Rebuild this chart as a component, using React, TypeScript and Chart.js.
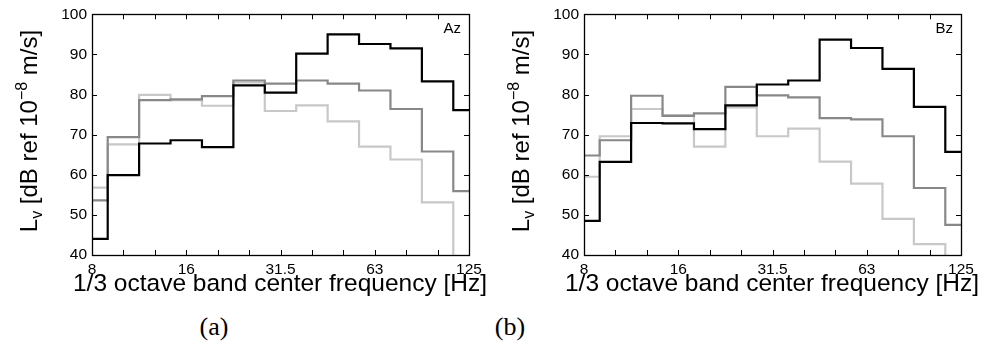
import React, { useEffect, useRef } from 'react';
import { Chart, registerables } from 'chart.js';
Chart.register(...registerables);

const bands = ['8', '10', '12.5', '16', '20', '25', '31.5', '40', '50', '63', '80', '100', '125'];
const xTickLabels = ['8', '16', '31.5', '63', '125'];
const yMin = 40;
const yMax = 100;
const yStep = 10;

const azBlack = [44.0, 59.9, 67.8, 68.6, 66.9, 82.3, 80.5, 90.2, 95.0, 92.6, 91.5, 83.3, 76.1];
const azDark = [53.6, 69.4, 78.6, 78.8, 79.6, 83.5, 82.7, 83.5, 82.7, 81.0, 76.4, 65.8, 55.9];
const azLight = [56.8, 67.6, 79.9, 78.6, 77.2, 83.0, 75.9, 77.3, 73.3, 67.0, 63.8, 53.1, 30];

const bzBlack = [48.5, 63.2, 72.9, 72.8, 71.4, 77.3, 82.5, 83.5, 93.7, 91.6, 86.4, 76.9, 65.7];
const bzDark = [64.8, 68.6, 79.7, 74.7, 75.3, 81.9, 79.8, 79.3, 74.1, 73.8, 69.6, 56.7, 47.5];
const bzLight = [59.5, 69.6, 76.4, 74.9, 67.0, 76.8, 69.6, 71.5, 63.3, 57.8, 49.0, 42.7, 30];

const SANS = '"Liberation Sans", Arial, Helvetica, sans-serif';
const SERIF = '"Liberation Serif", "Times New Roman", serif';

const boxPlugin = {
  id: 'matlabBox',
  afterDatasetsDraw(chart: any) {
    const { ctx, chartArea, scales } = chart;
    const { left, right, top, bottom } = chartArea;
    const x = scales.x;
    const y = scales.y;
    const tl = 5;
    ctx.save();
    ctx.strokeStyle = '#000';
    ctx.lineWidth = 1;
    ctx.beginPath();
    for (let i = 0; i < bands.length; i++) {
      const px = Math.round(x.getPixelForValue(i)) + 0.5;
      ctx.moveTo(px, bottom);
      ctx.lineTo(px, bottom - tl);
      ctx.moveTo(px, top);
      ctx.lineTo(px, top + tl);
    }
    for (let v = yMin; v <= yMax; v += yStep) {
      const py = Math.round(y.getPixelForValue(v)) + 0.5;
      ctx.moveTo(left, py);
      ctx.lineTo(left + tl, py);
      ctx.moveTo(right, py);
      ctx.lineTo(right - tl, py);
    }
    ctx.stroke();
    ctx.lineWidth = 1.3;
    ctx.strokeRect(Math.round(left) + 0.5, Math.round(top) + 0.5, Math.round(right - left), Math.round(bottom - top));
    ctx.restore();
  },
};

function Panel(props: { left: number; black: number[]; dark: number[]; light: number[]; tag: string; letter: string; letterX: number }) {
  const ref = useRef<HTMLCanvasElement | null>(null);
  useEffect(() => {
    if (!ref.current) return;
    const ds = (data: number[], color: string, w: number) => ({
      data,
      borderColor: color,
      borderWidth: w,
      stepped: 'middle' as const,
      pointRadius: 0,
      fill: false,
    });
    const chart = new Chart(ref.current, {
      type: 'line',
      data: {
        labels: bands,
        datasets: [
          ds(props.black, '#000000', 2.2),
          ds(props.dark, '#888888', 2.2),
          ds(props.light, '#c8c8c8', 2.2),
        ],
      },
      options: {
        responsive: false,
        animation: false,
        events: [],
        layout: { padding: { left: 50, right: 24, top: 14, bottom: 0 } },
        plugins: { legend: { display: false }, tooltip: { enabled: false } },
        scales: {
          x: {
            type: 'category',
            offset: false,
            grid: { display: false, drawTicks: false },
            border: { display: false },
            ticks: {
              autoSkip: false,
              maxRotation: 0,
              minRotation: 0,
              padding: 5,
              color: '#000',
              font: { family: SANS, size: 15.5 },
              callback: (_v: any, i: number) => (xTickLabels.includes(bands[i]) ? bands[i] : ''),
            },
            afterFit: (s: any) => {
              s.height = 45;
            },
          },
          y: {
            min: yMin,
            max: yMax,
            grid: { display: false, drawTicks: false },
            border: { display: false },
            ticks: {
              stepSize: yStep,
              padding: 5,
              color: '#000',
              font: { family: SANS, size: 15.5 },
            },
            afterFit: (s: any) => {
              s.width = 42;
            },
          },
        },
      },
      plugins: [boxPlugin],
    });
    return () => chart.destroy();
  }, []);

  const L = props.left;
  return (
    <>
      <canvas
        ref={ref}
        width={493}
        height={300}
        style={{ position: 'absolute', left: L, top: 0, width: 493, height: 300 }}
      />
      <div
        style={{
          position: 'absolute',
          left: L + 29 - 130,
          top: 131 - 15,
          width: 260,
          height: 30,
          lineHeight: '30px',
          textAlign: 'center',
          transform: 'rotate(-90deg)',
          fontFamily: SANS,
          fontSize: 24,
          color: '#000',
          whiteSpace: 'nowrap',
        }}
      >
        L<sub style={{ fontSize: 16, verticalAlign: '-5px', lineHeight: 0 }}>v</sub> [dB ref 10
        <sup style={{ fontSize: 16, verticalAlign: '10px', lineHeight: 0 }}>−8</sup> m/s]
      </div>
      <div
        style={{
          position: 'absolute',
          left: L + 280 - 250,
          top: 270,
          width: 500,
          height: 26,
          lineHeight: '26px',
          textAlign: 'center',
          fontFamily: SANS,
          fontSize: 24.5,
          color: '#000',
          whiteSpace: 'nowrap',
        }}
      >
        1/3 octave band center frequency [Hz]
      </div>
      <div
        style={{
          position: 'absolute',
          left: L + 400,
          top: 19,
          width: 61,
          lineHeight: '17px',
          textAlign: 'right',
          fontFamily: SANS,
          fontSize: 15,
          color: '#000',
        }}
      >
        {props.tag}
      </div>
      <div
        style={{
          position: 'absolute',
          left: props.letterX - 40,
          top: 312,
          width: 80,
          lineHeight: '30px',
          textAlign: 'center',
          fontFamily: SERIF,
          fontSize: 26,
          color: '#000',
        }}
      >
        {props.letter}
      </div>
    </>
  );
}

export default function App() {
  useEffect(() => {
    document.body.style.margin = '0';
    document.body.style.background = '#fff';
  }, []);
  return (
    <div style={{ position: 'relative', width: 986, height: 354, background: '#fff', overflow: 'hidden' }}>
      <Panel left={0} black={azBlack} dark={azDark} light={azLight} tag="Az" letter="(a)" letterX={214} />
      <Panel left={492} black={bzBlack} dark={bzDark} light={bzLight} tag="Bz" letter="(b)" letterX={510} />
    </div>
  );
}
